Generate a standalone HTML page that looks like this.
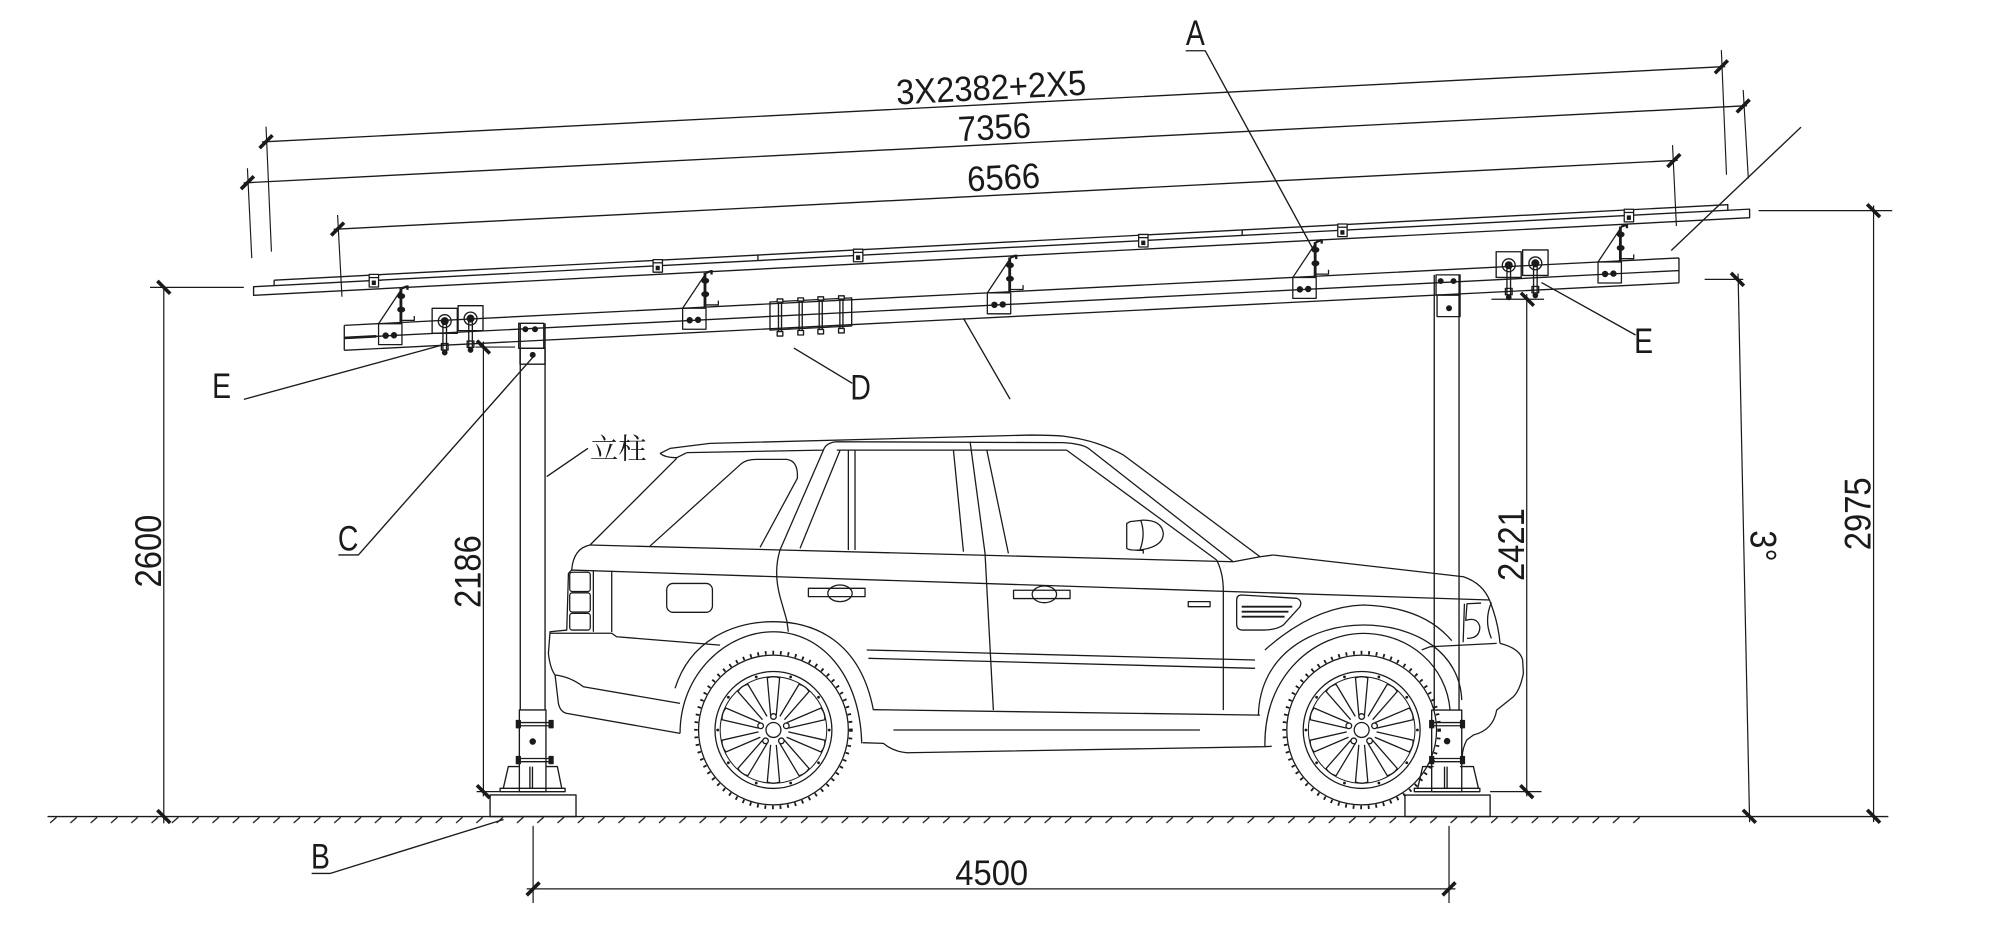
<!DOCTYPE html>
<html><head><meta charset="utf-8"><style>
html,body{margin:0;padding:0;background:#fff;}
svg{display:block;}
text{font-family:"Liberation Sans","Noto Sans CJK SC",sans-serif;fill:#1a1a1a;stroke:none;}
.cn{font-family:"Liberation Serif","Noto Serif CJK SC",serif;}
</style></head><body>
<svg width="2010" height="940" viewBox="0 0 1564.7 731.8" preserveAspectRatio="none" xmlns="http://www.w3.org/2000/svg">
<defs>
<pattern id="hatch" x="37" y="635.7" width="15.8" height="6" patternUnits="userSpaceOnUse">
<path d="M2,5 L7,0.6" stroke="#1a1a1a" stroke-width="1"/>
</pattern>
<path id="sp" d="M-2.2,-11.5 L-4.8,-40.5 Q0,-42.5 4.8,-40.5 L2.2,-11.5"/>
<g id="wheel" fill="none" stroke="#1a1a1a">
<circle r="60.3" stroke-width="2.8" stroke-dasharray="1.4 4.5"/>
<circle r="58.3" stroke-width="1"/>
<circle r="45.5" stroke-width="1"/>
<circle r="41.5" stroke-width="0.8"/>
<circle r="5.8" stroke-width="1"/>
<circle cx="0" cy="-10.5" r="2.2"/><circle cx="9.99" cy="-3.24" r="2.2"/><circle cx="6.17" cy="8.49" r="2.2"/><circle cx="-6.17" cy="8.49" r="2.2"/><circle cx="-9.99" cy="-3.24" r="2.2"/>
<use href="#sp"/><use href="#sp" transform="rotate(36)"/><use href="#sp" transform="rotate(72)"/><use href="#sp" transform="rotate(108)"/><use href="#sp" transform="rotate(144)"/><use href="#sp" transform="rotate(180)"/><use href="#sp" transform="rotate(216)"/><use href="#sp" transform="rotate(252)"/><use href="#sp" transform="rotate(288)"/><use href="#sp" transform="rotate(324)"/>
<g fill="#1a1a1a" stroke="none">
<circle cx="13.4" cy="-41.3" r="1.1"/><circle cx="35.1" cy="-25.5" r="1.1"/><circle cx="43.4" cy="0" r="1.1"/><circle cx="35.1" cy="25.5" r="1.1"/><circle cx="13.4" cy="41.3" r="1.1"/><circle cx="-13.4" cy="41.3" r="1.1"/><circle cx="-35.1" cy="25.5" r="1.1"/><circle cx="-43.4" cy="0" r="1.1"/><circle cx="-35.1" cy="-25.5" r="1.1"/><circle cx="-13.4" cy="-41.3" r="1.1"/>
</g>
</g>
<g id="brk" fill="none" stroke="#1a1a1a" stroke-width="1">
<rect x="0" y="0" width="18.2" height="16.3"/>
<circle cx="5.5" cy="9.3" r="2" fill="#1a1a1a"/>
<circle cx="12" cy="9" r="2" fill="#1a1a1a"/>
<path d="M0,0 L18.5,-27.8"/>
<path d="M17.4,-27.6 L17.4,-1" stroke-width="2.2"/>
<path d="M17.4,-2.6 L27.8,-2.6 L27.8,-6"/>
<ellipse cx="17.6" cy="-21.5" rx="2.6" ry="1.8" fill="#1a1a1a"/>
<ellipse cx="17.6" cy="-11" rx="2.6" ry="1.8" fill="#1a1a1a"/>
<path d="M18,-27.5 L22,-29 M22.5,-29.8 L22.5,-26.3" stroke-width="1.8"/>
</g>
<g id="clp" stroke="#1a1a1a" stroke-width="1">
<rect x="-3.6" y="-0.5" width="7.3" height="9.8" fill="#fff"/>
<rect x="-1.6" y="4.3" width="3.2" height="3.5" fill="#1a1a1a" stroke="none"/>
<path d="M-3.6,2 L3.7,2" fill="none"/>
</g>
</defs>

<g fill="none" stroke="#1a1a1a" stroke-width="1.05" stroke-linejoin="round">

<!-- ground -->
<path d="M37,635.7 L1470,635.7"/>
<rect x="38" y="635.7" width="1243" height="6" fill="url(#hatch)" stroke="none"/>

<!-- top dimension lines -->
<path d="M204,110.5 L1343,51.8 M189.6,142.4 L1360,82.3 M259.8,178.5 L1306,124.8"/>
<path d="M207.1,98.6 L211.3,195.9 M1340,39 L1344,136 M192.6,131 L196,201 M1357,70 L1361,139 M262.8,167.4 L266.2,231 M1302,113 L1305,176" stroke-width="0.9"/>
<g stroke-width="2.8">
<path d="M202.1,115.3 L212.1,105.3 M1335,57 L1345,47 M187.6,147.2 L197.6,137.2 M1352,87.5 L1362,77.5 M257.8,183.3 L267.8,173.3 M1298,130 L1308,120"/>
</g>

<!-- panel and rail -->
<path d="M213.4,218.1 L1345,159.35 L1345,163.65 M213.4,218.1 L213.4,222.4"/>
<path d="M197.4,223.2 L1362,162.8 L1362,169.5 L197.4,229.9 Z"/>
<path d="M590,198.5 L590,202.8 M967,179 L967,183.3"/>

<!-- lower beam -->
<path d="M268,253.3 L1307,200.8 M268,263.1 L1307,210.6 M268,272.7 L1307,220.2 M268,253.3 L268,272.7 M1307,200.8 L1307,220.2"/>
<path d="M268,263.1 L293,261.8" stroke-width="2"/>

<!-- brackets -->
<use href="#brk" transform="translate(294.7,252)"/>
<use href="#brk" transform="translate(531.4,240)"/>
<use href="#brk" transform="translate(768.6,228)"/>
<use href="#brk" transform="translate(1006.4,216)"/>
<use href="#brk" transform="translate(1244,204)"/>

<!-- clips -->
<use href="#clp" transform="translate(291,214.1)"/>
<use href="#clp" transform="translate(512,202.6)"/>
<use href="#clp" transform="translate(668,194.5)"/>
<use href="#clp" transform="translate(890,183)"/>
<use href="#clp" transform="translate(1045,174.9)"/>
<use href="#clp" transform="translate(1268,163.4)"/>

<!-- E plates left -->
<rect x="336.4" y="240" width="19.6" height="19.5"/>
<rect x="356.6" y="238" width="19.4" height="19.4"/>
<circle cx="346.2" cy="250" r="5"/><circle cx="346.2" cy="250" r="2.6" fill="#1a1a1a"/>
<circle cx="366.3" cy="248" r="5"/><circle cx="366.3" cy="248" r="2.6" fill="#1a1a1a"/>
<path d="M344.8,252 L344.8,273 M347.6,252 L347.6,273 M364.9,250 L364.9,271 M367.7,250 L367.7,271"/>
<rect x="343.6" y="267.5" width="5.2" height="5"/><rect x="363.7" y="265.5" width="5.2" height="5"/>
<circle cx="346.2" cy="274.5" r="1.7" fill="#1a1a1a"/><circle cx="366.3" cy="272.5" r="1.7" fill="#1a1a1a"/>
<!-- E plates right -->
<rect x="1164.7" y="196" width="19.5" height="20"/>
<rect x="1185.3" y="194.6" width="19.8" height="19.8"/>
<circle cx="1174.5" cy="206.5" r="5"/><circle cx="1174.5" cy="206.5" r="2.6" fill="#1a1a1a"/>
<circle cx="1195.2" cy="205" r="5"/><circle cx="1195.2" cy="205" r="2.6" fill="#1a1a1a"/>
<path d="M1173.1,208 L1173.1,230 M1175.9,208 L1175.9,230 M1193.8,207 L1193.8,228.5 M1196.6,207 L1196.6,228.5"/>
<rect x="1171.9" y="224.5" width="5.2" height="5"/><rect x="1192.6" y="223" width="5.2" height="5"/>
<circle cx="1174.5" cy="231.5" r="1.7" fill="#1a1a1a"/><circle cx="1195.2" cy="230" r="1.7" fill="#1a1a1a"/>

<!-- D cluster -->
<path d="M599.4,235.1 L663,231.9 L663,253.8 L599.4,257 Z"/>
<path d="M606,232.7 L606,261.6 M608.4,232.7 L608.4,261.6 M622.1,231.9 L622.1,260.8 M624.5,231.9 L624.5,260.8 M637.7,231.1 L637.7,260 M640.1,231.1 L640.1,260 M653.8,230.3 L653.8,259.2 M656.2,230.3 L656.2,259.2"/>
<g fill="#fff">
<rect x="605" y="232.7" width="4.4" height="2.5"/><rect x="621.1" y="231.9" width="4.4" height="2.5"/><rect x="636.7" y="231.1" width="4.4" height="2.5"/><rect x="652.8" y="230.3" width="4.4" height="2.5"/>
<rect x="605" y="258.1" width="4.4" height="3.5"/><rect x="621.1" y="257.3" width="4.4" height="3.5"/><rect x="636.7" y="256.5" width="4.4" height="3.5"/><rect x="652.8" y="255.7" width="4.4" height="3.5"/>
</g>

<!-- left column -->
<path d="M405,251.7 L405,552.7 M424.3,251.7 L424.3,552.7"/>
<rect x="403.8" y="251.7" width="19.5" height="19.5"/>
<circle cx="409" cy="256.3" r="1.8" fill="#1a1a1a"/><circle cx="416.5" cy="256.3" r="1.8" fill="#1a1a1a"/>
<rect x="404.8" y="271.2" width="19.5" height="12.3"/>
<circle cx="414.7" cy="276.3" r="1.8" fill="#1a1a1a"/>
<rect x="404.3" y="552.7" width="20.7" height="63.6"/>
<path d="M402,562.5 L430.8,562.5 M402,565 L430.8,565 M402,590.5 L430.8,590.5 M402,593 L430.8,593"/>
<rect x="402" y="561" width="3" height="5.5" fill="#1a1a1a"/><rect x="427.5" y="561" width="3" height="5.5" fill="#1a1a1a"/>
<rect x="402" y="589" width="3" height="5.5" fill="#1a1a1a"/><rect x="427.5" y="589" width="3" height="5.5" fill="#1a1a1a"/>
<circle cx="414.7" cy="577.3" r="2" fill="#1a1a1a"/>
<path d="M391.8,613.7 L395.7,596.8 L404.3,596.8 M425,596.8 L433.9,596.8 L437.3,613.7 M412.5,596.8 L412.5,613.7 M414.5,596.8 L414.5,613.7"/>
<rect x="389.3" y="613.7" width="50.6" height="2.6"/>
<rect x="381.5" y="618.9" width="66.9" height="16.8"/>

<!-- right column -->
<path d="M1116.5,214 L1116.5,552.8 M1135.8,214 L1135.8,552.8"/>
<rect x="1117.9" y="214" width="18.7" height="15.7"/>
<circle cx="1121.5" cy="218.8" r="1.8" fill="#1a1a1a"/><circle cx="1131.5" cy="218.8" r="1.8" fill="#1a1a1a"/>
<rect x="1118.7" y="229.7" width="17.9" height="16.8"/>
<circle cx="1128" cy="240" r="1.8" fill="#1a1a1a"/>
<rect x="1114.5" y="552.8" width="23.4" height="63.5"/>
<path d="M1113,562.5 L1140,562.5 M1113,565 L1140,565 M1113,590.5 L1140,590.5 M1113,593 L1140,593"/>
<rect x="1113" y="561" width="3" height="5.5" fill="#1a1a1a"/><rect x="1137" y="561" width="3" height="5.5" fill="#1a1a1a"/>
<rect x="1113" y="589" width="3" height="5.5" fill="#1a1a1a"/><rect x="1137" y="589" width="3" height="5.5" fill="#1a1a1a"/>
<circle cx="1126.5" cy="577" r="2" fill="#1a1a1a"/>
<path d="M1103.6,613.7 L1107.5,596.8 L1116,596.8 M1136.6,596.8 L1147,596.8 L1150.9,613.7 M1124.5,596.8 L1124.5,613.7 M1126.5,596.8 L1126.5,613.7"/>
<rect x="1101" y="613.7" width="51" height="2.6"/>
<rect x="1093.7" y="619" width="66.3" height="16.7"/>

<!-- vertical / horizontal dims -->
<path d="M127.5,223.7 L127.5,641 M116.8,223.7 L189.8,223.7" stroke-width="0.95"/>
<path d="M376.3,266 L376.3,620 M370,270.2 L401,270.2 M371,616.3 L389,616.3" stroke-width="0.95"/>
<path d="M1188.5,229 L1188.5,620 M1161,233 L1202,233 M1160,616.3 L1200,616.3" stroke-width="0.95"/>
<path d="M1353,213 L1362,640 M1327,217.5 L1357,217.5" stroke-width="0.95"/>
<path d="M1458.5,160 L1458.5,640 M1369,164 L1473,164" stroke-width="0.95"/>
<path d="M410,692 L1133,692 M415,643 L415,703 M1128,643 L1128,703" stroke-width="0.95"/>
<g stroke-width="2.8">
<path d="M122.5,218.7 L132.5,228.7 M122.5,630.7 L132.5,640.7"/>
<path d="M371.3,265.2 L381.3,275.2 M371.3,611.3 L381.3,621.3"/>
<path d="M1184,228 L1194,238 M1183.5,611.3 L1193.5,621.3"/>
<path d="M1347.5,212.5 L1357.5,222.5 M1356.8,630.5 L1366.8,640.5"/>
<path d="M1453.5,159 L1463.5,169 M1453.5,630.5 L1463.5,640.5"/>
<path d="M410,697 L420,687 M1123,697 L1133,687"/>
</g>

<!-- leaders -->
<path d="M923,39.5 L938.2,39.5 L1022.5,194.6"/>
<path d="M189.8,310.9 L344.4,268.6"/>
<path d="M1200,220 L1273.2,260.8"/>
<path d="M263.4,432 L279,432 L415.2,277.7"/>
<path d="M618,271 L663.5,298.4"/>
<path d="M242.6,680 L256.9,680 L392,638"/>
<path d="M425.6,371 L457.7,349"/>
<path d="M750,247.8 L786.3,310.8"/>
<path d="M1402,99 L1301,195"/>

<!-- CAR -->
<g stroke-width="1">
<path d="M513.8,353 L521.6,349.1 L552.7,345.2 M513.8,353 Q518,356.5 526.8,356.3 L534.6,352.4"/>
<path d="M552.7,345.2 L801.8,338.7 Q820,338.8 827.8,339.5 Q845,342 853.7,345.2 Q865,349 874.5,354.2 L980.9,433.4"/>
<path d="M534.6,352.4 L641,350.4 Q643,344.5 651.4,343.9 L827.8,344.6 Q842,345.5 847.2,349 L960,437.3"/>
<path d="M651.4,350.4 L830.3,350.4 L947.1,436"/>
<path d="M526.8,356.8 L459.3,424.3"/>
<path d="M506,425.1 L577.4,360.7 Q581.3,357.6 589.1,357.6 L612.4,357.6 Q621.5,358.7 620.7,372.4 L591.7,426.1"/>
<path d="M641,350.4 L607.2,428.2 Q602,445 607.2,464.5 L612.4,482.7 L613.7,491.8"/>
<path d="M654,350.4 L622.8,426.9"/>
<path d="M660.4,350.4 L660.4,428.2 M665.6,350.4 L665.6,428.2"/>
<path d="M742.2,350.4 L750,429.5 M755.2,343.9 L766.8,430.8 L773.3,552.8 M768.2,350.4 L785,430.8"/>
<path d="M459.3,424.3 L960.1,437.3 L980.9,433.4 L991.2,432.1"/>
<path d="M445,443.8 L1159.9,467.1"/>
<path d="M459.3,424.3 Q446.4,426.9 445,443.8 L442.5,446.4 L441.2,490.5 L428.2,491.8 L426.9,508.7 Q428.2,520.3 432.1,525.5 L434.7,547.6 Q436,554.1 441.2,555.4 L529.4,570.9"/>
<path d="M432.1,525.5 Q443.8,526.8 454.1,534.6 L529.4,547.6"/>
<path d="M428.2,493 L476.2,493 L480,495.7 L560.5,502.2"/>
<rect x="443.5" y="445.5" width="16" height="15" rx="2"/>
<rect x="443.5" y="461.5" width="16" height="15" rx="2"/>
<rect x="443.5" y="477.5" width="16" height="13" rx="2"/>
<path d="M461.9,443.8 L461.9,491.8 M476.2,444.3 L476.2,492"/>
<rect x="519" y="454.2" width="35.6" height="22.5" rx="5"/>
<path d="M525.5,535.9 C537.2,498.3 570.9,484 602,484 C633.2,484 669.5,498.3 679.9,552.8"/>
<path d="M529.4,570.9 C529.4,524.2 565.7,491.8 602,491.8 C638.4,491.8 669.5,524.2 670.8,578.7"/>
<rect x="629.3" y="458" width="44.1" height="6.5"/>
<ellipse cx="653.9" cy="461.9" rx="9.5" ry="6.5"/>
<rect x="789" y="459.5" width="44" height="6.5"/>
<ellipse cx="813" cy="462.7" rx="9.5" ry="6.5"/>
<path d="M674.7,506 L977,513.8 M676,512.5 L977,520.3"/>
<path d="M679.9,552.5 L980.9,556.7"/>
<path d="M671.6,578.2 L687.7,578.7 Q695.5,585.2 705.9,586 L983.5,581.3 L990,581"/>
<path d="M695.5,568.3 L934.1,568.3"/>
<path d="M947.1,436 Q952.3,446 952.3,460 L952.3,552.8"/>
<path d="M991.2,432.1 L1139.2,449 Q1154.7,454.2 1160,468.4 Q1166.4,485 1167.7,500.9"/>
<path d="M1167.7,500.9 Q1183.2,504.8 1185.3,513.8 L1185.9,524.2 Q1183.3,537.2 1178.1,542.4 L1165.1,552.8 Q1162.5,568.3 1147,572.2 L1141.8,576.1 Q1136.6,586.5 1139.2,594.3"/>
<path d="M1106.7,506 L1113.2,503.5 L1165.1,500.9"/>
<path d="M1153,469.5 L1142,470 L1141,483 Q1150,480 1152,488 Q1152,497 1142,497 M1161,469 Q1155,483 1161,497 M1140,470 L1139,500"/>
<path d="M966.6,463.2 L1009.4,465.8 Q1014,467.5 1012,472.3 L999,486.6 Q994,490.3 983.5,490.5 L966.6,490.5 Q962.7,490 962.7,486 L962.7,467.1 Q962.7,463.2 966.6,463.2 Z"/>
<path d="M966.6,472.3 L1006,472.3 M966.6,476.2 L1003,476.2 M966.6,480.1 L1000,480.1" stroke-width="1.4"/>
<rect x="925" y="468.4" width="17" height="3.9"/>
<path d="M877.1,407.5 L877.1,426.9 Q879.6,428.7 887.4,428.2 Q905.6,425.6 905.6,415.2 Q904.3,404.9 890,404.9 L879.7,406.1 Z"/>
<path d="M888,405 Q892,416 887.4,428.2 M885,428.5 L890,428.5 L890,431"/>
<path d="M984.7,506 Q1022.4,472.3 1061.3,471 Q1108,472.3 1130.1,498.8"/>
<path d="M979.6,556.7 C980.9,508.7 1022.4,486.6 1061.3,486.6 C1102.8,486.6 1136.6,508.7 1137.9,545"/>
<path d="M984.7,581.3 C983.5,524.2 1025,493.1 1061.3,493.1 C1097.6,493.1 1126.2,519 1128.8,552.8"/>
</g>
</g>

<use href="#wheel" transform="translate(602.1,568.3)"/>
<use href="#wheel" transform="translate(1060,568.3)"/>

<!-- texts -->
<text transform="translate(772,77.5) rotate(-2.95) scale(1,1.08)" font-size="25.5" text-anchor="middle">3X2382+2X5</text>
<text transform="translate(774.6,108.5) rotate(-2.94) scale(1,1.08)" font-size="25.5" text-anchor="middle">7356</text>
<text transform="translate(781.7,147.5) rotate(-2.94) scale(1,1.08)" font-size="25.5" text-anchor="middle">6566</text>
<text transform="translate(772,689) scale(1,1.08)" font-size="25.5" text-anchor="middle">4500</text>
<text transform="translate(125.5,429) rotate(-90) scale(1,1.12)" font-size="25.5" text-anchor="middle">2600</text>
<text transform="translate(374,445) rotate(-90) scale(1,1.12)" font-size="25.5" text-anchor="middle">2186</text>
<text transform="translate(1186.5,424) rotate(-90) scale(1,1.12)" font-size="25.5" text-anchor="middle">2421</text>
<text transform="translate(1456,400) rotate(-90) scale(1,1.12)" font-size="25.5" text-anchor="middle">2975</text>
<text transform="translate(1362.5,425) rotate(90) scale(1,1.12)" font-size="25.5" text-anchor="middle">3°</text>
<text transform="translate(930.5,35) scale(0.85,1.05)" font-size="26" text-anchor="middle">A</text>
<text transform="translate(172.5,310) scale(0.85,1.05)" font-size="26" text-anchor="middle">E</text>
<text transform="translate(1279.5,275) scale(0.85,1.05)" font-size="26" text-anchor="middle">E</text>
<text transform="translate(271,428.5) scale(0.85,1.05)" font-size="26" text-anchor="middle">C</text>
<text transform="translate(670,311) scale(0.85,1.05)" font-size="26" text-anchor="middle">D</text>
<text transform="translate(249.5,676) scale(0.85,1.05)" font-size="26" text-anchor="middle">B</text>
<text class="cn" x="459.3" y="357" font-size="22">立柱</text>
</svg>
</body></html>
